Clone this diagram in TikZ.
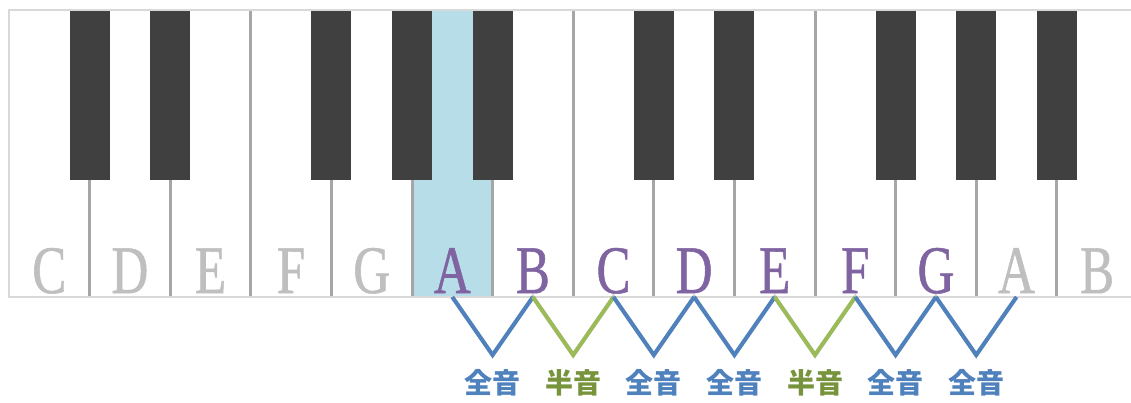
\documentclass[tikz,border=0pt]{standalone}
\usepackage{fontspec}
\newfontfamily\keyfont[FakeStretch=0.75,FakeBold=0.8]{Liberation Serif}
\newfontfamily\cjk{Noto Sans CJK JP}
\definecolor{framegray}{HTML}{D9D9D9}
\definecolor{divgray}{HTML}{A6A6A6}
\definecolor{blackkey}{HTML}{404040}
\definecolor{hilite}{HTML}{B7DEE8}
\definecolor{dimletter}{HTML}{BFBFBF}
\definecolor{litletter}{HTML}{8064A2}
\definecolor{wholeblue}{HTML}{4F81BD}
\definecolor{halfgreen}{HTML}{9BBB59}
\definecolor{halftext}{HTML}{77933C}
\tikzset{
  frameline/.style={draw=framegray, line width=2pt},
  divider/.style={draw=divgray, line width=3pt},
  blackkeybox/.style={fill=blackkey},
  keyletter/.style={anchor=base, inner sep=0pt, font=\keyfont\fontsize{68}{68}\selectfont},
  dim/.style={keyletter, text=dimletter},
  lit/.style={keyletter, text=litletter},
  stepline/.style={line width=4pt, line join=miter, line cap=butt},
  wholestep/.style={stepline, draw=wholeblue},
  halfstep/.style={stepline, draw=halfgreen},
  shade/.style={stepline, draw=black, opacity=0.18},
  steplabel/.style={inner sep=0pt, font=\cjk\bfseries\fontsize{28}{28}\selectfont},
  wholelabel/.style={steplabel, text=wholeblue},
  halflabel/.style={steplabel, text=halftext},
}
\begin{document}
\begin{tikzpicture}[x=1pt,y=-1pt]
\useasboundingbox (0,0) rectangle (1131,403);
\clip (0,0) rectangle (1131,403);
\def\kw{80.6}
% highlighted white key (A)
\fill[hilite] (9+5*\kw,10) rectangle (9+6*\kw,297);
% dividers between white keys
\foreach \i in {1,...,13} {
  \ifnum\i=3 \draw[divider] (9+\i*\kw,10) -- (9+\i*\kw,297);
  \else\ifnum\i=7 \draw[divider] (9+\i*\kw,10) -- (9+\i*\kw,297);
  \else\ifnum\i=10 \draw[divider] (9+\i*\kw,10) -- (9+\i*\kw,297);
  \else \draw[divider] (9+\i*\kw,180) -- (9+\i*\kw,297);
  \fi\fi\fi
}
% keyboard frame
\draw[frameline] (1140,10) -- (9,10) -- (9,297) -- (1140,297);
% black keys
\foreach \i in {1,2,4,5,6,8,9,11,12,13}
  \fill[blackkeybox] (9+\i*\kw-20,11) rectangle (9+\i*\kw+20,180);
% note names
\foreach \i/\n/\s in {0/C/dim,1/D/dim,2/E/dim,3/F/dim,4/G/dim,
                      5/A/lit,6/B/lit,7/C/lit,8/D/lit,9/E/lit,10/F/lit,11/G/lit,
                      12/A/dim,13/B/dim}
  \node[\s] (k\i) at (9+\i*\kw+0.5*\kw,293) {\n};
% step points: tops under the note names, bottoms under the key boundaries
\foreach \i in {5,...,12}
  \coordinate (t\i) at (k\i.base |- 0,297);
\foreach \i in {6,...,12}
  \coordinate (b\i) at (9+\i*\kw,355);
% soft shadow under the zigzag
\begin{scope}[shift={(1.5,1.5)}]
  \draw[shade] (t5) -- (b6) -- (t6) -- (b7) -- (t7) -- (b8) -- (t8) -- (b9) -- (t9)
    -- (b10) -- (t10) -- (b11) -- (t11) -- (b12) -- (t12);
\end{scope}
% whole and half steps
\draw[wholestep] (t5) -- (b6) -- (t6);
\draw[halfstep]  (t6) -- (b7) -- (t7);
\draw[wholestep] (t7) -- (b8) -- (t8);
\draw[wholestep] (t8) -- (b9) -- (t9);
\draw[halfstep]  (t9) -- (b10) -- (t10);
\draw[wholestep] (t10) -- (b11) -- (t11);
\draw[wholestep] (t11) -- (b12) -- (t12);
% step labels
\foreach \i/\s/\t in {6/wholelabel/全音,7/halflabel/半音,8/wholelabel/全音,9/wholelabel/全音,
                      10/halflabel/半音,11/wholelabel/全音,12/wholelabel/全音}
  \node[\s] (l\i) at (b\i |- 0,383) {\t};
\end{tikzpicture}
\end{document}
